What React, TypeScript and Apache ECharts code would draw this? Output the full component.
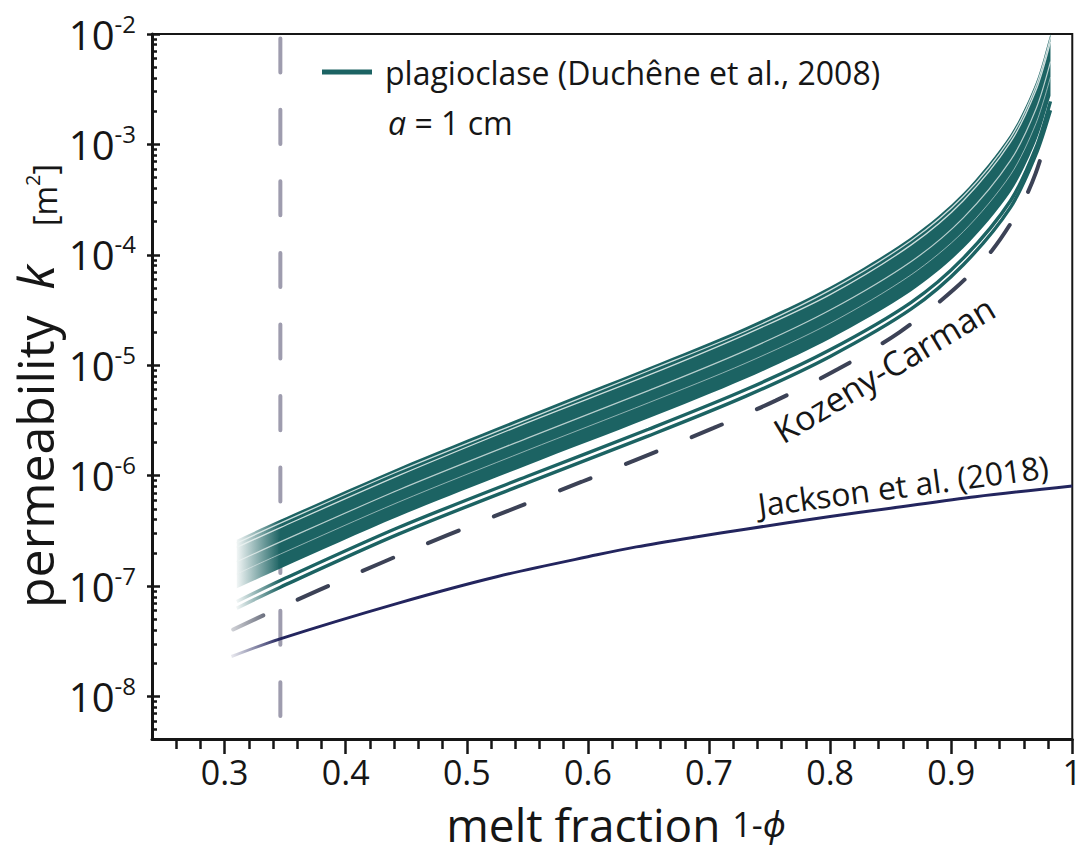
import React, { useEffect, useRef } from "react";
import * as echarts from "echarts";

// ---------------- data (log10 of permeability k [m^2]) ----------------
const meltFraction = [0.31, 0.346, 0.4435, 0.55, 0.65, 0.7305, 0.8, 0.867, 0.91, 0.949, 0.97, 0.982];
const plagTop = [-6.58, -6.4, -5.93, -5.455, -5.02, -4.655, -4.29, -3.84, -3.44, -2.91, -2.44, -2.0];
const plagBottom = [-7.02, -6.84, -6.37, -5.905, -5.48, -5.12, -4.76, -4.33, -3.94, -3.43, -2.97, -2.56];
const plagSep1 = [-6.61, -6.43, -5.96, -5.49, -5.05, -4.69, -4.32, -3.87, -3.47, -2.94, -2.47, -2.03];
const plagSep2 = [-6.65, -6.47, -6.0, -5.52, -5.09, -4.72, -4.36, -3.91, -3.51, -2.98, -2.51, -2.07];
const plagSep3 = [-6.78, -6.6, -6.13, -5.66, -5.23, -4.865, -4.5, -4.06, -3.665, -3.145, -2.68, -2.25];
const plagSep4 = [-6.89, -6.71, -6.24, -5.77, -5.34, -4.98, -4.62, -4.18, -3.79, -3.275, -2.81, -2.39];
const plagLowA = [-7.14, -6.95, -6.47, -6.005, -5.58, -5.22, -4.86, -4.43, -4.03, -3.51, -3.03, -2.61];
const plagLowB = [-7.2, -7.01, -6.53, -6.065, -5.64, -5.28, -4.92, -4.49, -4.09, -3.57, -3.09, -2.69];

const kozenyX = [0.296, 0.3507, 0.404, 0.4572, 0.5118, 0.595, 0.6402, 0.7034, 0.755, 0.8066, 0.8575, 0.9026, 0.9337, 0.9576, 0.9698, 0.982];
const kozenyLogK = [-7.45, -7.17, -6.91, -6.66, -6.415, -6.055, -5.855, -5.57, -5.32, -5.035, -4.7, -4.31, -3.96, -3.56, -3.26, -2.83];

const jacksonX = [0.3056, 0.3452, 0.4435, 0.5255, 0.6075, 0.64, 0.689, 0.73, 0.8, 0.85, 0.92, 1.0];
const jacksonLogK = [-7.638, -7.48, -7.154, -6.913, -6.717, -6.645, -6.555, -6.485, -6.37, -6.295, -6.19, -6.093];

const cutoffFraction = 0.346;

const X_MIN = 0.24;
const X_MAX = 1.0;
const Y_MIN = -8.385;
const Y_MAX = -2;

const xMajorTicks = [0.3, 0.4, 0.5, 0.6, 0.7, 0.8, 0.9, 1.0];
const yMajorExponents = [-8, -7, -6, -5, -4, -3, -2];

const LEGEND_NAME = "plagioclase (Duchêne et al., 2008)";
const FONT = "'Open Sans', 'Noto Sans', 'DejaVu Sans', sans-serif";
const INK = "#161616";
const TEAL = "28,99,99";
const NAVY = "35,37,94";
const SLATE = "60,66,86";
const GRAYLINE = "#9e9cae";

// ---------------- helpers ----------------
const xMinorTicks: number[] = [];
for (let i = 13; i <= 49; i++) if (i % 5 !== 0) xMinorTicks.push(i / 50);
const yMinorTicks: number[] = [];
for (let e = -9; e <= -3; e++) {
  for (let m = 2; m <= 9; m++) {
    const v = e + Math.log10(m);
    if (v > Y_MIN && v < Y_MAX) yMinorTicks.push(v);
  }
}

const pairs = (xs: number[], ys: number[]) => xs.map((x, i) => [x, ys[i]]);

function fade(rgb: string, xs: number[], a0 = 0.05) {
  const stop = (cutoffFraction - xs[0]) / (xs[xs.length - 1] - xs[0]);
  return new echarts.graphic.LinearGradient(0, 0, 1, 0, [
    { offset: 0, color: `rgba(${rgb},${a0})` },
    { offset: Math.max(0.001, Math.min(0.999, stop)), color: `rgba(${rgb},1)` },
    { offset: 1, color: `rgba(${rgb},1)` },
  ]);
}

// same control-point rule as ECharts' smoothed line
function smoothSegs(pts: number[][], smooth: number): string {
  const n = pts.length;
  const cpOut: number[][] = [];
  const cpIn: number[][] = [];
  for (let i = 0; i < n; i++) {
    const p = pts[i];
    const prev = pts[Math.max(0, i - 1)];
    const next = pts[Math.min(n - 1, i + 1)];
    const vx = next[0] - prev[0];
    const vy = next[1] - prev[1];
    const l0 = Math.hypot(p[0] - prev[0], p[1] - prev[1]);
    const l1 = Math.hypot(next[0] - p[0], next[1] - p[1]);
    const r = l0 + l1 > 0 ? l1 / (l0 + l1) : 0.5;
    cpOut.push([p[0] + vx * smooth * r, p[1] + vy * smooth * r]);
    cpIn.push([p[0] - vx * smooth * (1 - r), p[1] - vy * smooth * (1 - r)]);
  }
  let d = "";
  for (let i = 0; i < n - 1; i++) {
    d += ` C${cpOut[i][0]},${cpOut[i][1]} ${cpIn[i + 1][0]},${cpIn[i + 1][1]} ${pts[i + 1][0]},${pts[i + 1][1]}`;
  }
  return d;
}

const lineSeries = (name: string, data: number[][], lineStyle: any, z = 3) => ({
  type: "line",
  name,
  data,
  xAxisIndex: 0,
  yAxisIndex: 0,
  smooth: 0.3,
  symbol: "none",
  silent: true,
  z,
  lineStyle,
});

function makeOption(): any {
  const bandGradient = fade(TEAL, meltFraction, 0.06);
  return {
    animation: false,
    backgroundColor: "#ffffff",
    grid: {
      left: 152,
      top: 34,
      right: 6,
      bottom: 117,
      show: true,
      borderColor: INK,
      borderWidth: 2,
      backgroundColor: "transparent",
    },
    legend: {
      show: true,
      left: 322,
      top: 56,
      padding: 0,
      icon: "rect",
      itemWidth: 50,
      itemHeight: 5,
      selectedMode: false,
      textStyle: { fontSize: 32, fontFamily: FONT, color: INK, padding: [0, 0, 0, 8] },
      data: [{ name: LEGEND_NAME, itemStyle: { color: `rgb(${TEAL})` } }],
    },
    xAxis: [
      {
        type: "value",
        min: X_MIN,
        max: X_MAX,
        position: "bottom",
        splitLine: { show: false },
        axisLine: { show: true, onZero: false, lineStyle: { color: INK, width: 3 } },
        axisTick: { show: true, customValues: xMajorTicks, length: 15, lineStyle: { color: INK, width: 2.5 } },
        axisLabel: {
          show: true,
          customValues: xMajorTicks,
          margin: 16,
          fontSize: 34,
          fontFamily: FONT,
          color: INK,
          formatter: (v: number) => (Math.abs(v - 1) < 1e-9 ? "1" : v.toFixed(1)),
        },
      },
      {
        type: "value",
        min: X_MIN,
        max: X_MAX,
        position: "bottom",
        splitLine: { show: false },
        axisLine: { show: false, onZero: false },
        axisTick: { show: true, customValues: xMinorTicks, length: 10, lineStyle: { color: INK, width: 2.5 } },
        axisLabel: { show: false },
      },
    ],
    yAxis: [
      {
        type: "value",
        min: Y_MIN,
        max: Y_MAX,
        position: "left",
        splitLine: { show: false },
        axisLine: { show: true, onZero: false, lineStyle: { color: INK, width: 3 } },
        axisTick: { show: true, inside: true, customValues: yMajorExponents, length: 8, lineStyle: { color: INK, width: 2.5 } },
        axisLabel: {
          show: true,
          customValues: yMajorExponents,
          margin: 16,
          formatter: (v: number) => `{b|10}{s|${Math.round(v)}}`,
          rich: {
            b: { fontSize: 40, fontFamily: FONT, color: INK, lineHeight: 46 },
            s: { fontSize: 24, fontFamily: FONT, color: INK, lineHeight: 24, verticalAlign: "top" },
          },
        },
      },
      {
        type: "value",
        min: Y_MIN,
        max: Y_MAX,
        position: "left",
        splitLine: { show: false },
        axisLine: { show: false, onZero: false },
        axisTick: { show: true, inside: true, customValues: yMinorTicks, length: 5, lineStyle: { color: INK, width: 2.5 } },
        axisLabel: { show: false },
      },
      {
        type: "value",
        min: Y_MIN,
        max: Y_MAX,
        position: "left",
        splitLine: { show: false },
        axisLine: { show: false, onZero: false },
        axisTick: { show: true, inside: false, customValues: yMajorExponents, length: 5, lineStyle: { color: INK, width: 2.5 } },
        axisLabel: { show: false },
      },
    ],
    series: [
      lineSeries(
        "cutoff",
        [
          [cutoffFraction, Y_MAX],
          [cutoffFraction, Y_MIN],
        ],
        { color: GRAYLINE, width: 4, type: [34, 37.5], dashOffset: 66.5, cap: "round" },
        1
      ),
      {
        type: "custom",
        name: LEGEND_NAME,
        coordinateSystem: "cartesian2d",
        xAxisIndex: 0,
        yAxisIndex: 0,
        silent: true,
        clip: true,
        z: 2,
        itemStyle: { color: `rgb(${TEAL})` },
        data: [[meltFraction[0], plagTop[0]]],
        renderItem: (_params: any, api: any) => {
          const top = meltFraction.map((x, i) => api.coord([x, plagTop[i]]));
          const bot = meltFraction.map((x, i) => api.coord([x, plagBottom[i]])).reverse();
          const d =
            `M${top[0][0]},${top[0][1]}` +
            smoothSegs(top, 0.3) +
            ` L${bot[0][0]},${bot[0][1]}` +
            smoothSegs(bot, 0.3) +
            " Z";
          return { type: "path", shape: { pathData: d }, style: { fill: bandGradient, stroke: null } };
        },
      },
      lineSeries("sep1", pairs(meltFraction, plagSep1), { color: "rgba(236,243,242,0.85)", width: 1.3 }),
      lineSeries("sep2", pairs(meltFraction, plagSep2), { color: "rgba(236,243,242,0.85)", width: 1.3 }),
      lineSeries("sep3", pairs(meltFraction, plagSep3), { color: "rgba(236,243,242,0.75)", width: 1.2 }),
      lineSeries("sep4", pairs(meltFraction, plagSep4), { color: "rgba(236,243,242,0.55)", width: 1.0 }),
      lineSeries("lowA", pairs(meltFraction, plagLowA), { color: fade(TEAL, meltFraction, 0.06), width: 3.4 }),
      lineSeries("lowB", pairs(meltFraction, plagLowB), { color: fade(TEAL, meltFraction, 0.06), width: 3.4 }),
      lineSeries("Kozeny-Carman", pairs(kozenyX, kozenyLogK), {
        color: fade(SLATE, kozenyX, 0.05),
        width: 4,
        type: [33, 38],
        dashOffset: 56,
        cap: "round",
      }),
      lineSeries("Jackson", pairs(jacksonX, jacksonLogK), { color: fade(NAVY, jacksonX, 0.1), width: 3 }),
    ],
    graphic: [
      {
        type: "text",
        x: 388,
        y: 122,
        silent: true,
        style: {
          text: "{i|a} = 1 cm",
          fontSize: 32,
          fontFamily: FONT,
          fill: INK,
          verticalAlign: "middle",
          rich: { i: { fontSize: 32, fontFamily: FONT, fontStyle: "italic", fill: INK } },
        },
      },
      {
        type: "text",
        x: 884,
        y: 369,
        rotation: (31 * Math.PI) / 180,
        silent: true,
        style: { text: "Kozeny-Carman", fontSize: 34, fontFamily: FONT, fill: INK, align: "center", verticalAlign: "middle" },
      },
      {
        type: "text",
        x: 903,
        y: 485,
        rotation: (7.5 * Math.PI) / 180,
        silent: true,
        style: { text: "Jackson et al. (2018)", fontSize: 32, fontFamily: FONT, fill: INK, align: "center", verticalAlign: "middle" },
      },
      {
        type: "text",
        x: 616,
        y: 824,
        silent: true,
        style: {
          text: "{a|melt fraction} {b|1-}{c|ϕ}",
          fontSize: 46,
          fontFamily: FONT,
          fill: INK,
          align: "center",
          verticalAlign: "middle",
          lineHeight: 46,
          rich: {
            a: { fontSize: 46, fontFamily: FONT, fill: INK, lineHeight: 46 },
            b: { fontSize: 34, fontFamily: FONT, fill: INK, lineHeight: 46 },
            c: { fontSize: 34, fontFamily: FONT, fontStyle: "italic", fill: INK, lineHeight: 46 },
          },
        },
      },
      {
        type: "text",
        x: 32,
        y: 386,
        rotation: Math.PI / 2,
        silent: true,
        style: {
          text: "{p|permeability}{g|  }{k|k}{g|   }{u|[m}{s|2}{u|]}",
          fontSize: 50,
          fontFamily: FONT,
          fill: INK,
          align: "center",
          verticalAlign: "middle",
          rich: {
            p: { fontSize: 50, fontFamily: FONT, fill: INK, lineHeight: 56, verticalAlign: "bottom" },
            g: { fontSize: 50, fontFamily: FONT, fill: INK, lineHeight: 56, verticalAlign: "bottom" },
            k: { fontSize: 50, fontFamily: FONT, fontStyle: "italic", fill: INK, lineHeight: 56, verticalAlign: "bottom" },
            u: { fontSize: 32, fontFamily: FONT, fill: INK, lineHeight: 44, verticalAlign: "bottom" },
            s: { fontSize: 20, fontFamily: FONT, fill: INK, lineHeight: 20, verticalAlign: "bottom", padding: [0, 0, 18, 0] },
          },
        },
      },
    ],
  };
}

export default function App() {
  const ref = useRef<HTMLDivElement>(null);
  useEffect(() => {
    document.body.style.margin = "0";
    if (!ref.current) return;
    const chart = echarts.init(ref.current, null, { renderer: "svg" });
    chart.setOption(makeOption());
    return () => {
      chart.dispose();
    };
  }, []);
  return <div ref={ref} style={{ width: 1085, height: 856 }} />;
}
